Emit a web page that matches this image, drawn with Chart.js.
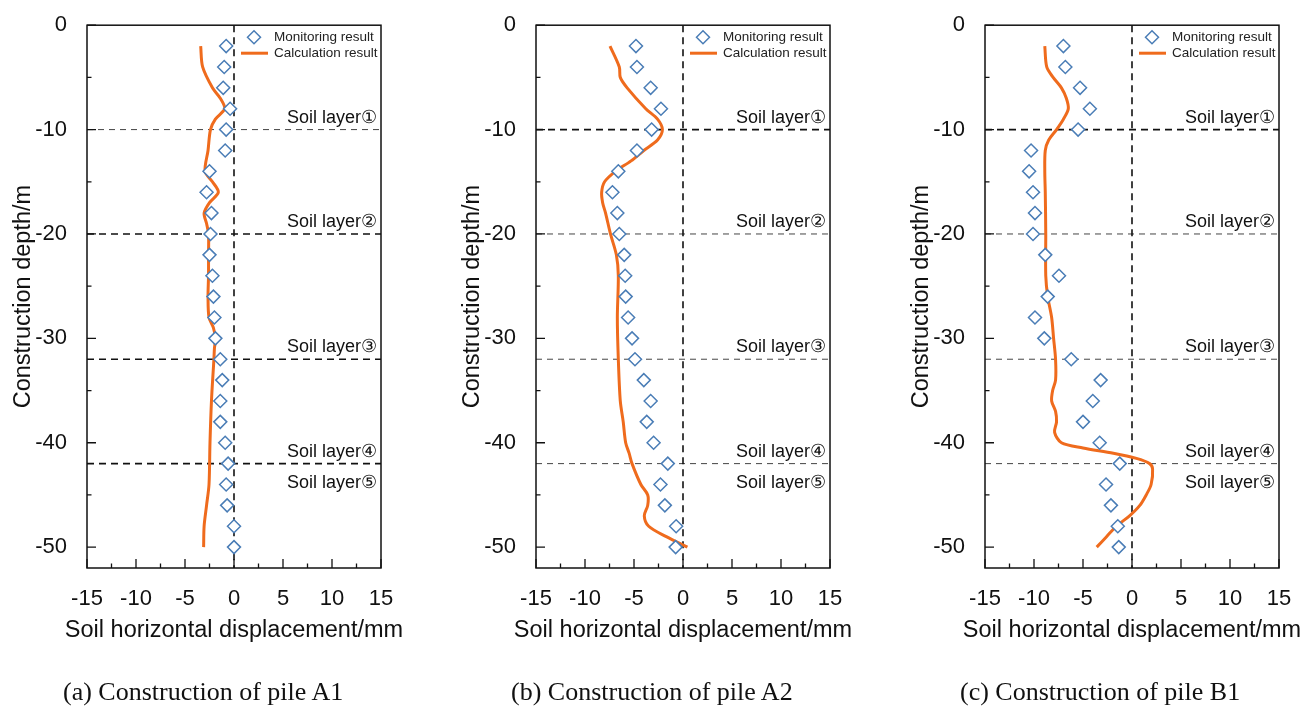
<!DOCTYPE html>
<html>
<head>
<meta charset="utf-8">
<script src="https://cdn.jsdelivr.net/npm/chart.js@4.4.1/dist/chart.umd.min.js"></script>
<style>
body { margin: 0; background: #fff; width: 1315px; height: 711px; overflow: hidden; position: relative; }
canvas { position: absolute; top: 0; }
.cap { position: absolute; top: 677px; font-family: "Liberation Serif", "Times New Roman", serif; font-size: 26px; color: #111; white-space: nowrap; line-height: 30px; }
</style>
</head>
<body>
<canvas id="pileA1" width="440" height="711" style="left:0px"></canvas>
<canvas id="pileA2" width="440" height="711" style="left:449px"></canvas>
<canvas id="pileB1" width="417" height="711" style="left:898px"></canvas>
<div class="cap" style="left:63px">(a) Construction of pile A1</div>
<div class="cap" style="left:511px">(b) Construction of pile A2</div>
<div class="cap" style="left:960px">(c) Construction of pile B1</div>
<script>
// axis ticks
const xTicks = [-15, -10, -5, 0, 5, 10, 15];
const yTicks = [0, -10, -20, -30, -40, -50];

// inclinometer depths (m)
const monitorDepth = [-2, -4, -6, -8, -10, -12, -14, -16, -18, -20, -22, -24, -26,
  -28, -30, -32, -34, -36, -38, -40, -42, -44, -46, -48, -50];

// soil layer boundaries
const layerDepth = [-10, -20, -32, -42];
const layerNames = ['Soil layer\u2460', 'Soil layer\u2461', 'Soil layer\u2462', 'Soil layer\u2463', 'Soil layer\u2464'];

// pile A1
const monitorA1 = [-0.8, -1.0, -1.1, -0.4, -0.8, -0.9, -2.5, -2.8, -2.3, -2.4, -2.5, -2.2, -2.1,
  -2.0, -1.9, -1.4, -1.2, -1.4, -1.4, -0.9, -0.6, -0.8, -0.7, 0, 0];
const calcDepthA1 = [-2, -4, -6, -7, -8, -9, -10, -12, -14, -15, -16, -17, -18, -19, -20, -22, -24,
  -26, -28, -29, -30, -31, -32, -36, -40, -44, -46, -48, -50];
const calcA1 = [-3.4, -3.2, -2.2, -1.4, -0.95, -1.9, -2.4, -2.65, -2.95, -2.2, -1.6, -2.5, -3.05, -2.8,
  -2.6, -2.6, -2.6, -2.65, -2.55, -2.1, -1.9, -2.0, -2.05, -2.3, -2.45, -2.55, -2.8, -3.05, -3.1];

// pile A2
const monitorA2 = [-4.8, -4.7, -3.3, -2.25, -3.2, -4.7, -6.6, -7.2, -6.7, -6.5, -6.0, -5.9, -5.85,
  -5.6, -5.2, -4.9, -4.0, -3.3, -3.7, -3.0, -1.55, -2.3, -1.85, -0.7, -0.75];
const calcDepthA2 = [-2, -4, -5, -6, -8, -9, -10, -11, -12, -13, -14, -15, -16, -17, -18, -20, -22,
  -24, -28, -32, -36, -38, -40, -41, -42, -44, -45, -46, -47, -48, -49, -50];
const calcA2 = [-7.45, -6.5, -6.4, -5.7, -3.8, -2.6, -2.1, -2.6, -4.0, -5.3, -6.9, -8.0, -8.3, -8.2,
  -7.9, -7.4, -6.8, -6.6, -6.7, -6.6, -6.4, -6.1, -5.85, -5.5, -5.2, -4.3, -3.6, -3.6, -3.95, -3.5, -1.7, 0.45];

// pile B1
const monitorB1 = [-7.0, -6.8, -5.3, -4.3, -5.5, -10.3, -10.5, -10.1, -9.9, -10.1, -8.85, -7.45, -8.6,
  -9.9, -8.95, -6.2, -3.2, -4.0, -5.0, -3.3, -1.25, -2.65, -2.15, -1.45, -1.35];
const calcDepthB1 = [-2, -4, -5, -6, -7, -8, -9, -10, -11, -12, -14, -16, -20, -24, -26, -28, -30, -32,
  -34, -35, -36, -37, -38, -39, -40, -40.5, -41, -41.5, -42, -42.5, -44, -45, -46, -47, -48, -49, -50];
const calcB1 = [-8.9, -8.7, -8.05, -7.2, -6.7, -6.5, -7.0, -7.7, -8.5, -8.85, -8.9, -8.85, -8.8, -8.8,
  -8.6, -8.2, -8.0, -7.8, -7.8, -8.1, -8.2, -7.8, -7.7, -7.9, -7.2, -5.0, -1.9, 0.45, 1.8, 2.1, 1.95,
  1.45, 0.8, -0.25, -1.6, -2.6, -3.6];

const SANS = '"Liberation Sans", Arial, sans-serif';
const BLUE = '#4a7db6';
const ORANGE = '#ef6b1d';

// box around the plot + inward major/minor ticks on the left and bottom
const framePlugin = {
  id: 'frame',
  afterDatasetsDraw(chart) {
    const { ctx, chartArea: a, scales } = chart;
    ctx.save();
    ctx.strokeStyle = '#111';
    ctx.lineWidth = 1.5;
    ctx.strokeRect(a.left, a.top, a.right - a.left, a.bottom - a.top);
    ctx.lineWidth = 1.3;
    ctx.beginPath();
    for (let v = -15; v <= 15; v += 2.5) {
      const px = scales.x.getPixelForValue(v);
      const len = v % 5 === 0 ? 9 : 4.5;
      ctx.moveTo(px, a.bottom);
      ctx.lineTo(px, a.bottom - len);
    }
    for (let v = 0; v >= -52; v -= 5) {
      const py = scales.y.getPixelForValue(v);
      const len = v % 10 === 0 ? 9 : 4.5;
      ctx.moveTo(a.left, py);
      ctx.lineTo(a.left + len, py);
    }
    ctx.stroke();

    // soil layer names
    ctx.fillStyle = '#111';
    ctx.font = '18px ' + SANS;
    ctx.textAlign = 'right';
    ctx.textBaseline = 'middle';
    layerDepth.forEach((d, i) => {
      ctx.fillText(layerNames[i], a.right - 4, scales.y.getPixelForValue(d) - 12);
    });
    ctx.fillText(layerNames[4], a.right - 4, scales.y.getPixelForValue(layerDepth[3]) + 19);

    // x axis title, wider than the plot so drawn here without a width cap
    ctx.font = '23.5px ' + SANS;
    ctx.textAlign = 'center';
    ctx.fillText('Soil horizontal displacement/mm', (a.left + a.right) / 2, a.bottom + 63);
    ctx.restore();
  }
};

const legendPlugin = {
  id: 'cornerLegend',
  afterDraw(chart) {
    const { ctx, chartArea: a } = chart;
    const r = a.right;
    ctx.save();
    ctx.fillStyle = '#fff';
    ctx.strokeStyle = BLUE;
    ctx.lineWidth = 1.5;
    Chart.helpers.drawPoint(ctx, { pointStyle: 'rectRot', radius: 6.5, borderWidth: 1.5, rotation: 0 }, r - 127, a.top + 12);
    ctx.strokeStyle = ORANGE;
    ctx.lineWidth = 3;
    ctx.beginPath();
    ctx.moveTo(r - 140, a.top + 28);
    ctx.lineTo(r - 113, a.top + 28);
    ctx.stroke();
    ctx.fillStyle = '#222';
    ctx.font = '13.5px ' + SANS;
    ctx.textBaseline = 'middle';
    ctx.fillText('Monitoring result', r - 107, a.top + 12);
    ctx.fillText('Calculation result', r - 107, a.top + 28);
    ctx.restore();
  }
};

function dashLine(points, strong) {
  return {
    data: points,
    showLine: true,
    borderColor: strong ? '#111' : '#444',
    borderWidth: strong ? 1.6 : 1,
    borderDash: strong ? [7, 5] : [6, 5],
    pointRadius: 0,
    tension: 0,
    order: 5
  };
}

function makePanel(id, monitor, calcDepth, calc, strongLayers) {
  const canvas = document.getElementById(id);
  const datasets = [
    {
      label: 'Monitoring result',
      data: monitorDepth.map((d, i) => ({ x: monitor[i], y: d })),
      pointStyle: 'rectRot',
      pointRadius: 6.5,
      pointBorderWidth: 1.5,
      pointBorderColor: BLUE,
      pointBackgroundColor: '#fff',
      showLine: false,
      order: 0
    },
    {
      label: 'Calculation result',
      data: calcDepth.map((d, i) => ({ x: calc[i], y: d })),
      showLine: true,
      borderColor: ORANGE,
      borderWidth: 3,
      pointRadius: 0,
      tension: 0.3,
      order: 1
    },
    dashLine([{ x: 0, y: 0 }, { x: 0, y: -52 }], true)
  ];
  layerDepth.forEach(d => {
    datasets.push(dashLine([{ x: -15, y: d }, { x: 15, y: d }], strongLayers.includes(d)));
  });

  new Chart(canvas, {
    type: 'scatter',
    data: { datasets },
    options: {
      responsive: false,
      animation: false,
      devicePixelRatio: 1,
      layout: { padding: { top: 20, right: canvas.width - 381, left: 0, bottom: 63 } },
      plugins: { legend: { display: false }, tooltip: { enabled: false } },
      scales: {
        x: {
          type: 'linear', min: -15, max: 15,
          afterBuildTicks: s => { s.ticks = xTicks.map(v => ({ value: v })); },
          afterFit: s => { s.height = 80; },
          grid: { display: false }, border: { display: false },
          ticks: { padding: 10, color: '#111', font: { family: SANS, size: 22 } },
          title: { display: false }
        },
        y: {
          type: 'linear', min: -52, max: 0,
          afterBuildTicks: s => { s.ticks = yTicks.map(v => ({ value: v })); },
          afterFit: s => { s.width = 87; },
          grid: { display: false }, border: { display: false },
          ticks: { padding: 12, color: '#111', font: { family: SANS, size: 22 } },
          title: { display: true, text: 'Construction depth/m', color: '#111',
            font: { family: SANS, size: 23.5 }, padding: { top: 9, bottom: 0 } }
        }
      }
    },
    plugins: [framePlugin, legendPlugin]
  });
}

makePanel('pileA1', monitorA1, calcDepthA1, calcA1, [-20, -32, -42]);
makePanel('pileA2', monitorA2, calcDepthA2, calcA2, [-10]);
makePanel('pileB1', monitorB1, calcDepthB1, calcB1, [-10]);
</script>
</body>
</html>
